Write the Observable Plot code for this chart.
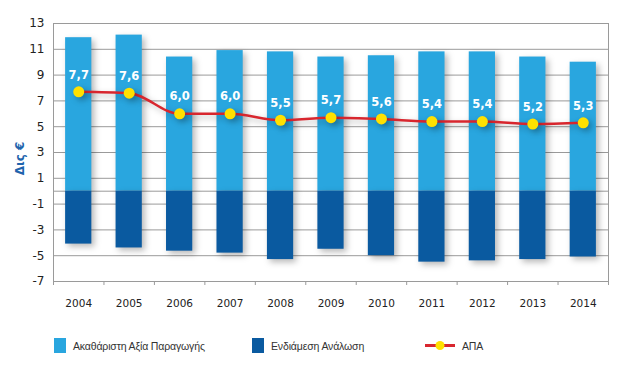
<!DOCTYPE html>
<html>
<head>
<meta charset="utf-8">
<script src="https://cdn.jsdelivr.net/npm/d3@7"></script>
<script src="https://cdn.jsdelivr.net/npm/@observablehq/plot@0.6"></script>
<style>
  body { margin: 0; background: #fff; font-family: "DejaVu Sans", sans-serif; }
  #wrap { position: relative; width: 634px; height: 376px; }
  .legend { position: absolute; top: 338px; left: 0; width: 634px; height: 16px; font-family: "Liberation Sans", sans-serif; font-size: 10.5px; letter-spacing: -0.15px; color: #333; }
  .item { position: absolute; top: 0; display: flex; align-items: center; height: 15px; }
  .sw { width: 12px; height: 15px; margin-right: 7px; }
</style>
</head>
<body>
<div id="wrap">
  <div id="chart"></div>
  <div class="legend">
    <div class="item" style="left:54px"><div class="sw" style="background:#29a6df"></div>Ακαθάριστη Αξία Παραγωγής</div>
    <div class="item" style="left:252px"><div class="sw" style="background:#0a5aa0"></div>Ενδιάμεση Ανάλωση</div>
    <div class="item" style="left:425px">
      <svg width="32" height="15" style="margin-right:5px"><line x1="0" y1="7.5" x2="30" y2="7.5" stroke="#d8262e" stroke-width="3"/><circle cx="15" cy="7.5" r="4.5" fill="#ffe100"/></svg>ΑΠΑ
    </div>
  </div>
</div>
<script>
const years = [2004, 2005, 2006, 2007, 2008, 2009, 2010, 2011, 2012, 2013, 2014];
const grossOutput = [11.9, 12.1, 10.4, 10.9, 10.8, 10.4, 10.5, 10.8, 10.8, 10.4, 10.0];
const intermediate = [-4.1, -4.4, -4.65, -4.8, -5.3, -4.5, -5.0, -5.5, -5.4, -5.3, -5.1];
const gva = [7.7, 7.6, 6.0, 6.0, 5.5, 5.7, 5.6, 5.4, 5.4, 5.2, 5.3];
const gvaLabels = ["7,7", "7,6", "6,0", "6,0", "5,5", "5,7", "5,6", "5,4", "5,4", "5,2", "5,3"];
const yTicks = [-7, -5, -3, -1, 1, 3, 5, 7, 9, 11, 13];
const yLabel = "Δις €";

const halfBar = 0.26;
const bars = years.map((y, i) => ({year: y, pos: grossOutput[i], neg: intermediate[i]}));
const line = years.map((y, i) => ({year: y, v: gva[i], label: gvaLabels[i]}));
const boundaries = d3.range(years[0] - 0.5, years[years.length - 1] + 1, 1);

const shadow = "drop-shadow(3px 3px 3px rgba(0,0,0,0.28))";

const chart = Plot.plot({
  width: 634,
  height: 320,
  marginLeft: 53,
  marginRight: 26,
  marginTop: 23,
  marginBottom: 39,
  style: {fontFamily: "DejaVu Sans, sans-serif", fontSize: "11px", color: "#222"},
  x: {domain: [years[0] - 0.5, years[years.length - 1] + 0.5]},
  y: {domain: [-7, 13]},
  marks: [
    Plot.ruleY(yTicks, {stroke: "#9a9a9a", strokeWidth: 1}),
    Plot.ruleY([0], {stroke: "#9a9a9a", strokeWidth: 1}),
    Plot.ruleX(boundaries.filter((d, i) => i === 0 || i === boundaries.length - 1), {stroke: "#9a9a9a", strokeWidth: 1}),
    Plot.rectY(bars, {x1: d => d.year - halfBar, x2: d => d.year + halfBar, y1: 0, y2: "pos", fill: "#29a6df", imageFilter: shadow}),
    Plot.rectY(bars, {x1: d => d.year - halfBar, x2: d => d.year + halfBar, y1: 0, y2: "neg", fill: "#0a5aa0", imageFilter: shadow}),
    Plot.axisY({ticks: yTicks, tickSize: 0, tickPadding: 9, label: null, fontSize: 12, tickFormat: d => String(d)}),
    Plot.axisX({ticks: boundaries, tickSize: 4, tickFormat: () => "", stroke: "#9a9a9a", label: null}),
    Plot.axisX({ticks: years, tickSize: 0, tickPadding: 18, tickFormat: d => String(d), label: null, fontSize: 10.5}),
    Plot.line(line, {x: "year", y: "v", stroke: "#d8262e", strokeWidth: 2.5, curve: "monotone-x", imageFilter: shadow}),
    Plot.dot(line, {x: "year", y: "v", r: 5.5, fill: "#ffe100", stroke: "none", imageFilter: shadow}),
    Plot.text(line, {x: "year", y: "v", text: "label", dy: -17, fill: "white", fontWeight: "bold", fontSize: 11.5}),
    Plot.text([yLabel], {frameAnchor: "left", textAnchor: "middle", dx: -33, dy: 6, rotate: -90, fill: "#1f64ad", fontWeight: "bold", fontSize: 12})
  ]
});
document.getElementById("chart").appendChild(chart);
</script>
</body>
</html>
